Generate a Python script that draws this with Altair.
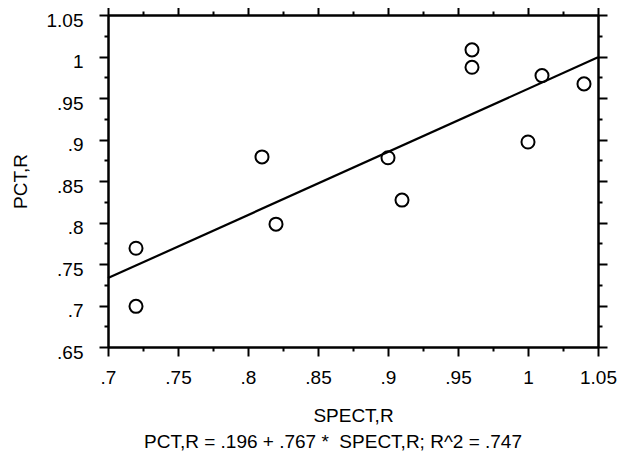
import altair as alt
import pandas as pd

# Data
spect = [0.72, 0.72, 0.81, 0.82, 0.90, 0.91, 0.96, 0.96, 1.00, 1.01, 1.04]
pct = [0.699, 0.769, 0.879, 0.798, 0.878, 0.827, 1.008, 0.987, 0.897, 0.977, 0.967]

fit_x = [0.70, 1.05]
fit_y = [0.733, 0.999]

x_major = [0.7, 0.75, 0.8, 0.85, 0.9, 0.95, 1.0, 1.05]
x_minor = [0.725, 0.775, 0.825, 0.875, 0.925, 0.975, 1.025]
y_major = [0.65, 0.7, 0.75, 0.8, 0.85, 0.9, 0.95, 1.0, 1.05]
y_minor = [0.675, 0.725, 0.775, 0.825, 0.875, 0.925, 0.975, 1.025]

footer = "PCT,R = .196 + .767 *\u00a0 SPECT,R; R^2 = .747"

pts = pd.DataFrame({"x": spect, "y": pct})
fit = pd.DataFrame({"x": fit_x, "y": fit_y})

FONT = "Liberation Sans"
FS = 19
lab = "datum.value < 1 ? slice(format(datum.value, '.2~f'), 1) : format(datum.value, '.2~f')"

common = dict(grid=False, domainColor="black", domainWidth=2, tickColor="black",
              tickWidth=2, labelColor="black", labelFont=FONT,
              labelFontSize=FS, titleFont=FONT, titleFontSize=FS, titleColor="black",
              titleFontWeight="normal", labelOverlap=False, labelFlush=False)

xs = alt.Scale(domain=[0.7, 1.05], nice=False, zero=False)
ys = alt.Scale(domain=[0.65, 1.05], nice=False, zero=False)


def bare(orient, values, size):
    return alt.Axis(orient=orient, values=values, labels=False, title=None,
                    tickSize=size, **common)


points = alt.Chart(pts).mark_point(shape="circle", filled=False, size=170,
                                   strokeWidth=2, color="black", opacity=1).encode(
    x=alt.X("x:Q", scale=xs,
            axis=alt.Axis(orient="bottom", values=x_major, labelExpr=lab, tickSize=9,
                          title="SPECT,R", labelPadding=12, titlePadding=19, **common)),
    y=alt.Y("y:Q", scale=ys,
            axis=alt.Axis(orient="left", values=y_major, labelExpr=lab, tickSize=9,
                          labelOffset=5, title="PCT,R", labelPadding=16,
                          titlePadding=16, **common)),
)

line = alt.Chart(fit).mark_line(color="black", strokeWidth=2.2).encode(
    x=alt.X("x:Q", scale=xs, axis=bare("top", x_major, 9)),
    y=alt.Y("y:Q", scale=ys, axis=bare("right", y_major, 9)),
)

minor1 = alt.Chart(fit).mark_point(opacity=0).encode(
    x=alt.X("x:Q", scale=xs, axis=bare("bottom", x_minor, 4)),
    y=alt.Y("y:Q", scale=ys, axis=bare("left", y_minor, 4)),
)

minor2 = alt.Chart(fit).mark_point(opacity=0).encode(
    x=alt.X("x:Q", scale=xs, axis=bare("top", x_minor, 4)),
    y=alt.Y("y:Q", scale=ys, axis=bare("right", y_minor, 4)),
)

chart = alt.layer(points, line, minor1, minor2).resolve_axis(
    x="independent", y="independent"
).properties(
    width=490, height=332,
    autosize=alt.AutoSizeParams(type="none"),
    padding={"left": 100, "top": 7, "right": 24, "bottom": 111},
    title=alt.TitleParams(footer, orient="bottom", anchor="middle", font=FONT,
                          fontSize=FS, fontWeight="normal", color="black",
                          offset=8, dx=-20),
).configure_view(stroke=None)

chart.save("out.html", embed_options={"renderer": "svg", "actions": False})
